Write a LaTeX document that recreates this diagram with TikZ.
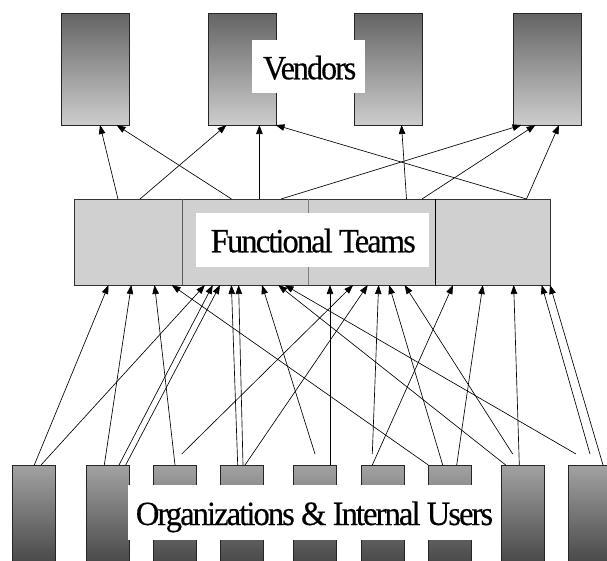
\documentclass[tikz,border=0pt]{standalone}
\usepackage{fontspec}
\setmainfont{Liberation Serif}
\newfontfamily\lblfont[LetterSpace=-6, FakeBold=0.4]{Liberation Serif}
\usetikzlibrary{arrows.meta}
\definecolor{vtop}{HTML}{646464}
\definecolor{vbot}{HTML}{CDCDCD}
\definecolor{otop}{HTML}{A2A2A2}
\definecolor{obot}{HTML}{4A4A4A}
\definecolor{ftfill}{HTML}{D0D0D0}
\begin{document}
\begin{tikzpicture}[x=1pt,y=-1pt,
  vendor/.style={draw=black!85, line width=0.7pt, top color=vtop, bottom color=vbot,
    minimum width=68pt, minimum height=112pt, inner sep=0pt, outer sep=0pt},
  orgbox/.style={draw=black!85, line width=0.7pt, top color=otop, bottom color=obot,
    minimum width=43pt, minimum height=96pt, inner sep=0pt, outer sep=0pt},
  ftbox/.style={draw=black!80, line width=0.7pt, fill=ftfill,
    minimum width=476pt, minimum height=86pt, inner sep=0pt, outer sep=0pt},
  whitebox/.style={fill=white, draw=none, inner sep=0pt, outer sep=0pt},
  lbl/.style={anchor=base, inner sep=0pt, font=\lblfont\fontsize{34}{34}\selectfont},
  arr/.style={-{Triangle[length=9pt,width=6.5pt]}, line width=0.65pt, black},
]
\useasboundingbox (0,0) rectangle (607,560);
% vendors
\node[vendor] (v1) at (95,69) {};
\node[vendor] (v2) at (242,69) {};
\node[vendor] (v3) at (388.5,69) {};
\node[vendor] (v4) at (547,69) {};
% functional teams
\node[ftbox] (ft) at (312,242) {};
\draw[line width=0.8pt, black!65] ([xshift=108pt]ft.north west) -- ([xshift=108pt]ft.south west);
\draw[line width=0.6pt, black!50] ([xshift=234.6pt]ft.north west) -- ([xshift=234.6pt]ft.south west);
\draw[line width=0.6pt, black] ([xshift=361.5pt]ft.north west) -- ([xshift=361.5pt]ft.south west);
% organisations
\node[orgbox] (o1) at (34.2,513) {};
\node[orgbox] (o2) at (107.9,513) {};
\node[orgbox] (o3) at (175,513) {};
\node[orgbox] (o4) at (241.7,513) {};
\node[orgbox] (o5) at (315.1,513) {};
\node[orgbox] (o6) at (382.5,513) {};
\node[orgbox] (o7) at (449.7,513) {};
\node[orgbox] (o8) at (523,513) {};
\node[orgbox] (o9) at (589.8,513) {};
% free ends
\coordinate (f1) at (181.7,454);
\coordinate (f2) at (315,454);
\coordinate (f3) at (372.3,454);
\coordinate (f4) at (512.7,454);
\coordinate (f5) at (576,454);
\coordinate (f6) at (590,454);
% upper arrows
\draw[arr] ([xshift=-194pt]ft.north) -- ([xshift=5pt]v1.south);
\draw[arr] ([xshift=-80.5pt]ft.north) -- ([xshift=21.5pt]v1.south);
\draw[arr] ([xshift=-172pt]ft.north) -- ([xshift=-15.5pt]v2.south);
\draw[arr] ([xshift=-52.6pt]ft.north) -- ([xshift=17.4pt]v2.south);
\draw[arr] ([xshift=214.5pt]ft.north) -- ([xshift=33.5pt]v2.south);
\draw[arr] ([xshift=-31pt]ft.north) -- ([xshift=-25.5pt]v4.south);
\draw[arr] ([xshift=94.5pt]ft.north) -- ([xshift=13pt]v3.south);
\draw[arr] ([xshift=110pt]ft.north) -- ([xshift=-11.5pt]v4.south);
\draw[arr] ([xshift=214.5pt]ft.north) -- ([xshift=12pt]v4.south);
% lower arrows
\draw[arr] ([xshift=0.1pt]o1.north) -- ([xshift=-203.5pt]ft.south);
\draw[arr] ([xshift=6.8pt]o1.north) -- ([xshift=-107pt]ft.south);
\draw[arr] ([xshift=-3.6pt]o2.north) -- ([xshift=-180.7pt]ft.south);
\draw[arr] ([xshift=11.1pt]o2.north) -- ([xshift=-99.2pt]ft.south);
\draw[arr] ([xshift=17.8pt]o2.north) -- ([xshift=-92pt]ft.south);
\draw[arr] ([xshift=0pt]o3.north) -- ([xshift=-157.4pt]ft.south);
\draw[arr] (f1) -- ([xshift=41.1pt]ft.south);
\draw[arr] ([xshift=-4pt]o4.north) -- ([xshift=-80.6pt]ft.south);
\draw[arr] ([xshift=1.3pt]o4.north) -- ([xshift=-73.4pt]ft.south);
\draw[arr] ([xshift=3.3pt]o4.north) -- ([xshift=55.8pt]ft.south);
\draw[arr] (f2) -- ([xshift=-50pt]ft.south);
\draw[arr] ([xshift=14.9pt]o5.north) -- ([xshift=18pt]ft.south);
\draw[arr] (f3) -- ([xshift=66.6pt]ft.south);
\draw[arr] ([xshift=-10.2pt]o6.north) -- ([xshift=141pt]ft.south);
\draw[arr] ([xshift=-21.4pt]o7.north) -- ([xshift=-140.3pt]ft.south);
\draw[arr] ([xshift=-7pt]o7.north) -- ([xshift=77.1pt]ft.south);
\draw[arr] ([xshift=7pt]o7.north) -- ([xshift=170.8pt]ft.south);
\draw[arr] ([xshift=-17.3pt]o8.north) -- ([xshift=-33.8pt]ft.south);
\draw[arr] (f4) -- ([xshift=92.6pt]ft.south);
\draw[arr] ([xshift=-3.7pt]o8.north) -- ([xshift=201.7pt]ft.south);
\draw[arr] (f5) -- ([xshift=-27.4pt]ft.south);
\draw[arr] (f6) -- ([xshift=229.7pt]ft.south);
\draw[arr] ([xshift=13.2pt]o9.north) -- ([xshift=238pt]ft.south);
% labels
\node[whitebox, minimum width=113pt, minimum height=53.3pt] (vw) at (308.5,66.65) {};
\node[lbl] (vt) at (309.7,79.3) {\scalebox{0.94}[1]{Vendors}};
\node[whitebox, minimum width=233.3pt, minimum height=53.4pt] (fw) at (312.65,240) {};
\node[lbl] (ftt) at (313.3,252.3) {\scalebox{0.96}[1]{Functional Teams}};
\node[whitebox, minimum width=369.7pt, minimum height=55pt] (ow) at (313.15,512.5) {};
\node[lbl] (ot) at (314.5,525) {\scalebox{0.96}[1]{Organizations \& Internal Users}};
\end{tikzpicture}
\end{document}
